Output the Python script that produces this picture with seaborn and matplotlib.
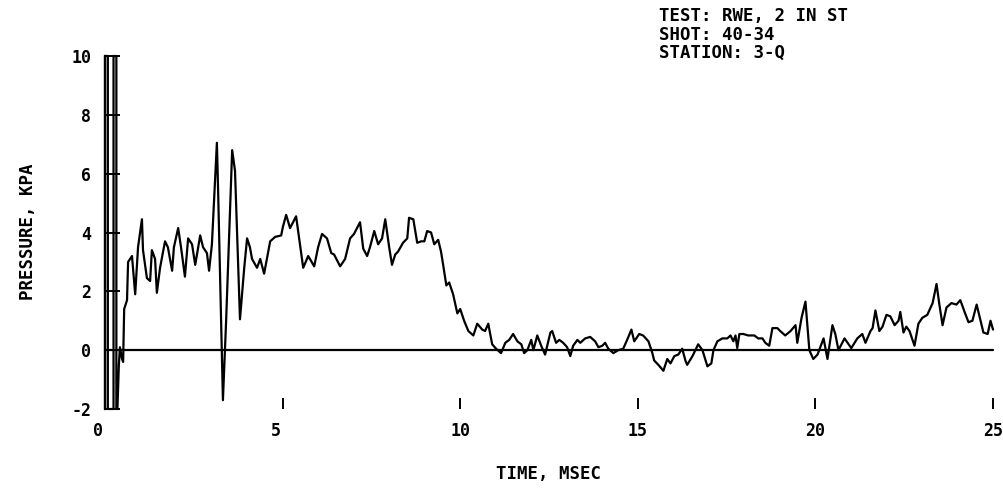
import matplotlib
matplotlib.use("Agg")
import matplotlib.pyplot as plt
import matplotlib.transforms as mtransforms
import seaborn as sns
import pandas as pd

# ---- data (time in ms, pressure in kPa; clipped to plot range) ----
time_ms = [0.0, 0.0, 0.08, 0.08, 0.24, 0.24, 0.32, 0.32, 0.35,
           0.39, 0.42, 0.48, 0.51, 0.54, 0.62, 0.65, 0.76, 0.85, 0.93,
           1.04, 1.07, 1.18, 1.27, 1.32, 1.41, 1.46, 1.55, 1.69, 1.77,
           1.89, 1.94, 2.06, 2.14, 2.25, 2.34, 2.45, 2.54, 2.68, 2.76,
           2.87, 2.93, 3.01, 3.15, 3.18, 3.32, 3.41, 3.58, 3.66, 3.80,
           3.92, 4.00, 4.08, 4.14, 4.28, 4.37, 4.48, 4.65, 4.79, 4.96,
           5.01, 5.10, 5.21, 5.38, 5.49, 5.58, 5.72, 5.77, 5.89, 6.00,
           6.11, 6.25, 6.37, 6.45, 6.62, 6.76, 6.90, 7.01, 7.18, 7.27,
           7.38, 7.46, 7.58, 7.69, 7.80, 7.89, 8.00, 8.08, 8.17, 8.25,
           8.39, 8.51, 8.56, 8.68, 8.79, 8.90, 8.99, 9.07, 9.18, 9.27,
           9.38, 9.46, 9.52, 9.61, 9.69, 9.80, 9.92, 10.00, 10.11, 10.23,
           10.37, 10.48, 10.62, 10.70, 10.79, 10.90, 11.01, 11.15, 11.27, 11.38,
           11.49, 11.61, 11.72, 11.80, 11.89, 12.00, 12.06, 12.17, 12.28, 12.39,
           12.54, 12.59, 12.70, 12.79, 12.90, 13.01, 13.10, 13.18, 13.30, 13.38,
           13.52, 13.66, 13.80, 13.89, 14.00, 14.08, 14.17, 14.31, 14.45, 14.59,
           14.70, 14.82, 14.90, 15.04, 15.15, 15.30, 15.41, 15.46, 15.58, 15.72,
           15.83, 15.92, 16.03, 16.14, 16.25, 16.34, 16.39, 16.54, 16.70, 16.82,
           16.96, 17.07, 17.13, 17.24, 17.38, 17.52, 17.61, 17.69, 17.75, 17.80,
           17.86, 17.97, 18.11, 18.28, 18.39, 18.51, 18.59, 18.70, 18.79, 18.93,
           19.01, 19.15, 19.30, 19.44, 19.49, 19.61, 19.72, 19.83, 19.94, 20.06,
           20.23, 20.34, 20.48, 20.56, 20.65, 20.82, 21.01, 21.18, 21.32, 21.41,
           21.55, 21.61, 21.69, 21.80, 21.89, 22.00, 22.11, 22.23, 22.34, 22.39,
           22.48, 22.56, 22.65, 22.79, 22.90, 23.01, 23.15, 23.30, 23.41, 23.49,
           23.58, 23.69, 23.83, 23.97, 24.08, 24.20, 24.31, 24.42, 24.54, 24.62,
           24.73, 24.85, 24.93, 25.00]
pressure_kpa = [-2.0, 10.0, 10.0, -2.0, -2.0, 10.0, 10.0, -2.0, -2.0,
                -0.5, 0.1, -0.3, -0.4, 1.4, 1.7, 3.0, 3.2, 1.9, 3.5,
                4.45, 3.4, 2.45, 2.35, 3.4, 3.1, 1.95, 2.8, 3.7, 3.5,
                2.7, 3.5, 4.15, 3.5, 2.5, 3.8, 3.6, 2.9, 3.9, 3.5,
                3.3, 2.7, 3.6, 7.05, 5.65, -1.7, 1.0, 6.8, 6.1, 1.05,
                2.8, 3.8, 3.5, 3.1, 2.8, 3.1, 2.6, 3.7, 3.85, 3.9,
                4.2, 4.6, 4.15, 4.55, 3.6, 2.8, 3.2, 3.1, 2.85, 3.5,
                3.95, 3.8, 3.3, 3.25, 2.85, 3.1, 3.8, 3.95, 4.35, 3.45,
                3.2, 3.5, 4.05, 3.6, 3.8, 4.45, 3.5, 2.9, 3.25, 3.35,
                3.65, 3.8, 4.5, 4.45, 3.65, 3.7, 3.7, 4.05, 4.0, 3.6,
                3.75, 3.35, 2.9, 2.2, 2.3, 1.9, 1.25, 1.4, 1.0, 0.65,
                0.5, 0.9, 0.7, 0.65, 0.9, 0.2, 0.05, -0.1, 0.25, 0.35,
                0.55, 0.3, 0.2, -0.1, 0.0, 0.35, 0.0, 0.5, 0.15, -0.15,
                0.6, 0.65, 0.25, 0.35, 0.25, 0.1, -0.2, 0.15, 0.35, 0.25,
                0.4, 0.45, 0.3, 0.1, 0.15, 0.25, 0.05, -0.1, 0.0, 0.05,
                0.35, 0.7, 0.3, 0.55, 0.5, 0.3, -0.1, -0.35, -0.5, -0.7,
                -0.3, -0.45, -0.2, -0.15, 0.05, -0.35, -0.5, -0.2, 0.2, 0.0,
                -0.55, -0.45, 0.0, 0.3, 0.4, 0.4, 0.5, 0.3, 0.5, 0.07,
                0.55, 0.55, 0.5, 0.5, 0.4, 0.4, 0.25, 0.15, 0.75, 0.75,
                0.65, 0.5, 0.65, 0.85, 0.25, 1.1, 1.65, 0.0, -0.3, -0.15,
                0.4, -0.3, 0.85, 0.55, 0.0, 0.4, 0.07, 0.4, 0.55, 0.25,
                0.65, 0.75, 1.35, 0.65, 0.8, 1.2, 1.15, 0.85, 1.0, 1.3,
                0.6, 0.8, 0.65, 0.15, 0.9, 1.1, 1.2, 1.6, 2.25, 1.55,
                0.85, 1.45, 1.6, 1.55, 1.7, 1.3, 0.95, 1.0, 1.55, 1.15,
                0.6, 0.55, 1.0, 0.7]

x_ticks = [0, 5, 10, 15, 20, 25]
x_tick_labels = ["0", "5", "10", "15", "20", "25"]
y_ticks = [-2, 0, 2, 4, 6, 8, 10]
y_tick_labels = ["-2", "0", "2", "4", "6", "8", "10"]
x_label = "TIME, MSEC"
y_label = "PRESSURE, KPA"
header_lines = ["TEST: RWE, 2 IN ST", "SHOT: 40-34", "STATION: 3-Q"]

sns.set_style("white")
plt.rcParams["font.family"] = ["DejaVu Sans Mono", "DejaVu Sans"]
plt.rcParams["font.weight"] = "bold"

fig = plt.figure(figsize=(10.04, 4.92), dpi=100)
ax = fig.add_axes([105 / 1004, 1 - 409 / 492, (993 - 105) / 1004, (409 - 56) / 492])

df = pd.DataFrame({"time": time_ms, "pressure": pressure_kpa})
sns.lineplot(data=df, x="time", y="pressure", sort=False, estimator=None,
             color="black", linewidth=1.6, ax=ax, clip_on=False)
ax.plot([0, 25], [0, 0], color="black", linewidth=1.6, clip_on=False)

ax.set_xlim(0, 25)
ax.set_ylim(-2, 10)

for side in ["top", "right", "bottom"]:
    ax.spines[side].set_visible(False)
ax.spines["left"].set_color("black")
ax.spines["left"].set_linewidth(1.6)

ax.set_xticks(x_ticks)
ax.set_xticklabels(x_tick_labels)
ax.set_yticks(y_ticks)
ax.set_yticklabels(y_tick_labels)
ax.tick_params(axis="x", bottom=True, direction="in", length=8, width=1.4,
               color="black", pad=9, labelsize=12, labelcolor="black")
ax.tick_params(axis="y", left=True, direction="in", length=11, width=1.4,
               color="black", pad=10, labelsize=12, labelcolor="black")
# single digit x labels sit slightly left of their tick in the reference
for lab in ax.get_xticklabels():
    if len(lab.get_text()) == 1:
        lab.set_transform(lab.get_transform() +
                          mtransforms.ScaledTranslation(-7 / 100, 0, fig.dpi_scale_trans))

ax.set_xlabel("")
ax.set_ylabel("")
fig.text(549 / 1004, 1 - 474 / 492, x_label, ha="center", va="center",
         fontsize=12.5, color="black")
fig.text(28 / 1004, 1 - 232 / 492, y_label, ha="center", va="center",
         rotation=90, fontsize=12.5, color="black")

for i, line in enumerate(header_lines):
    fig.text(659 / 1004, 1 - (16 + i * 18.5) / 492, line, ha="left", va="center",
             fontsize=12.5, color="black")

ax.grid(False)
fig.savefig("out.png", dpi=100, facecolor="white")
